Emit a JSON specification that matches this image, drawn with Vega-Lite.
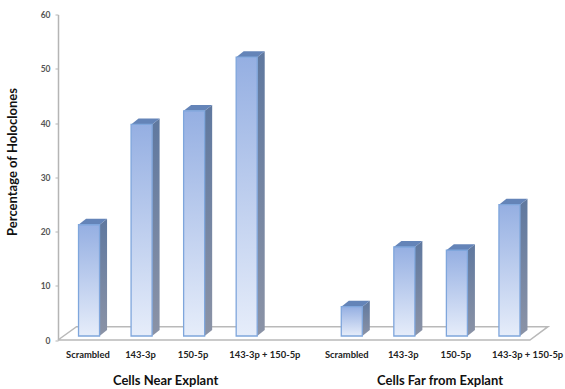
{
"$schema":"https://vega.github.io/schema/vega-lite/v6.json",
"width":507,"height":325.5,"autosize":"none",
"padding":{"left":58,"top":14.5,"right":0,"bottom":49},
"background":"white",
"config":{"view":{"stroke":null}},
"datasets":{
"bars":[
{"group":"Cells Near Explant","label":"Scrambled","slot":0,"value":20.5},
{"group":"Cells Near Explant","label":"143-3p","slot":1,"value":39.0},
{"group":"Cells Near Explant","label":"150-5p","slot":2,"value":41.5},
{"group":"Cells Near Explant","label":"143-3p + 150-5p","slot":3,"value":51.4},
{"group":"Cells Far from Explant","label":"Scrambled","slot":5,"value":5.4},
{"group":"Cells Far from Explant","label":"143-3p","slot":6,"value":16.4},
{"group":"Cells Far from Explant","label":"150-5p","slot":7,"value":15.8},
{"group":"Cells Far from Explant","label":"143-3p + 150-5p","slot":8,"value":24.2}
],
"floor":[
{"seq":0,"fx":-0.59,"fy":0},
{"seq":1,"fx":8.39,"fy":0},
{"seq":2,"fx":8.733,"fy":2.45},
{"seq":3,"fx":-0.238,"fy":2.45},
{"seq":4,"fx":-0.59,"fy":0}
],
"titles":[
{"title":"Cells Near Explant","tx":1.457,"row":0},
{"title":"Cells Far from Explant","tx":6.68,"row":1}
]
},
"layer":[
{"data":{"name":"floor"},
 "mark":{"type":"line","stroke":"#b9b9b9","strokeWidth":1.5,"clip":false},
 "encoding":{
  "x":{"field":"fx","type":"quantitative","scale":{"domain":[-0.5905,9.0571],"nice":false,"zero":false},"axis":null},
  "y":{"field":"fy","type":"quantitative","scale":{"domain":[0,60],"nice":false},
   "axis":{"title":"Percentage of Holoclones","values":[0,10,20,30,40,50,60],"grid":false,"domainColor":"#b5b5b5","domainWidth":1.5,"tickColor":"#b5b5b5","tickSize":3,"tickWidth":1,"labelFont":"Lato","labelFontSize":8.5,"labelFontWeight":"bold","labelColor":"#555555","labelPadding":5,"titleFont":"Lato","titleFontSize":13,"titleFontWeight":"bold","titleColor":"#111111","titleX":-39,"titleY":147}},
  "order":{"field":"seq"}}},
{"data":{"name":"bars"},
 "transform":[
  {"calculate":"datum.slot+0.2","as":"a"},
  {"calculate":"datum.slot+0.343","as":"b"},
  {"fold":["a","b"],"as":["corner","px"]},
  {"calculate":"datum.value+0.74+(datum.corner=='b'?1.1:0)","as":"yt"},
  {"calculate":"0.74+(datum.corner=='b'?1.1:0)","as":"yb"}],
 "mark":{"type":"area","line":false,"fill":{"gradient":"linear","x1":0,"y1":0,"x2":0,"y2":1,"stops":[{"offset":0,"color":"#5f789f"},{"offset":1,"color":"#8b93a6"}]}},
 "encoding":{
  "x":{"field":"px","type":"quantitative","scale":{"domain":[-0.5905,9.0571],"nice":false,"zero":false},"axis":null},
  "y":{"field":"yt","type":"quantitative","scale":{"domain":[0,60],"nice":false},"stack":null},
  "y2":{"field":"yb"},
  "detail":{"field":"slot"}}},
{"data":{"name":"bars"},
 "transform":[
  {"calculate":"datum.slot-0.2","as":"p0"},
  {"calculate":"datum.slot-0.057","as":"p1"},
  {"calculate":"datum.slot+0.2","as":"p2"},
  {"calculate":"datum.slot+0.343","as":"p3"},
  {"fold":["p0","p1","p2","p3"],"as":["corner","px"]},
  {"calculate":"datum.value+0.74+(datum.corner=='p0'?0:1.1)","as":"yt"},
  {"calculate":"datum.value+0.74+(datum.corner=='p3'?1.1:0)","as":"yb"}],
 "mark":{"type":"area","fill":"#6484b8"},
 "encoding":{
  "x":{"field":"px","type":"quantitative","scale":{"domain":[-0.5905,9.0571],"nice":false,"zero":false},"axis":null},
  "y":{"field":"yt","type":"quantitative","scale":{"domain":[0,60],"nice":false},"stack":null},
  "y2":{"field":"yb"},
  "detail":{"field":"slot"}}},
{"data":{"name":"bars"},
 "transform":[
  {"calculate":"datum.slot-0.2","as":"l"},
  {"calculate":"datum.slot+0.2","as":"r"},
  {"calculate":"datum.value+0.74","as":"t"},
  {"calculate":"0.74","as":"base"}],
 "mark":{"type":"bar","stroke":"#7fa6dc","strokeWidth":1.3,"fill":{"gradient":"linear","x1":0,"y1":0,"x2":0,"y2":1,"stops":[{"offset":0,"color":"#95afe2"},{"offset":1,"color":"#e6edfa"}]}},
 "encoding":{
  "x":{"field":"l","type":"quantitative","scale":{"domain":[-0.5905,9.0571],"nice":false,"zero":false},"axis":null},
  "x2":{"field":"r"},
  "y":{"field":"t","type":"quantitative","scale":{"domain":[0,60],"nice":false}},
  "y2":{"field":"base"}}},
{"data":{"name":"bars"},
 "transform":[
  {"calculate":"datum.slot+(datum.label=='143-3p + 150-5p'?0.345:(datum.slot==5?-0.095:-0.022))","as":"lx"},
  {"calculate":"0","as":"ly"}],
 "mark":{"type":"text","font":"Lato","fontSize":9.4,"fontWeight":"bold","color":"#222222","dy":14.5,"baseline":"middle","align":"center","clip":false},
 "encoding":{
  "x":{"field":"lx","type":"quantitative","scale":{"domain":[-0.5905,9.0571],"nice":false,"zero":false},"axis":null},
  "y":{"field":"ly","type":"quantitative","scale":{"domain":[0,60],"nice":false}},
  "text":{"field":"label"}}},
{"data":{"name":"titles"},
 "transform":[{"calculate":"0","as":"ly"}],
 "mark":{"type":"text","font":"Lato","fontSize":13,"fontWeight":"bold","color":"#111111","dy":41,"baseline":"middle","align":"center","clip":false},
 "encoding":{
  "x":{"field":"tx","type":"quantitative","scale":{"domain":[-0.5905,9.0571],"nice":false,"zero":false},"axis":null},
  "y":{"field":"ly","type":"quantitative","scale":{"domain":[0,60],"nice":false}},
  "text":{"field":"title"}}}
]
}
